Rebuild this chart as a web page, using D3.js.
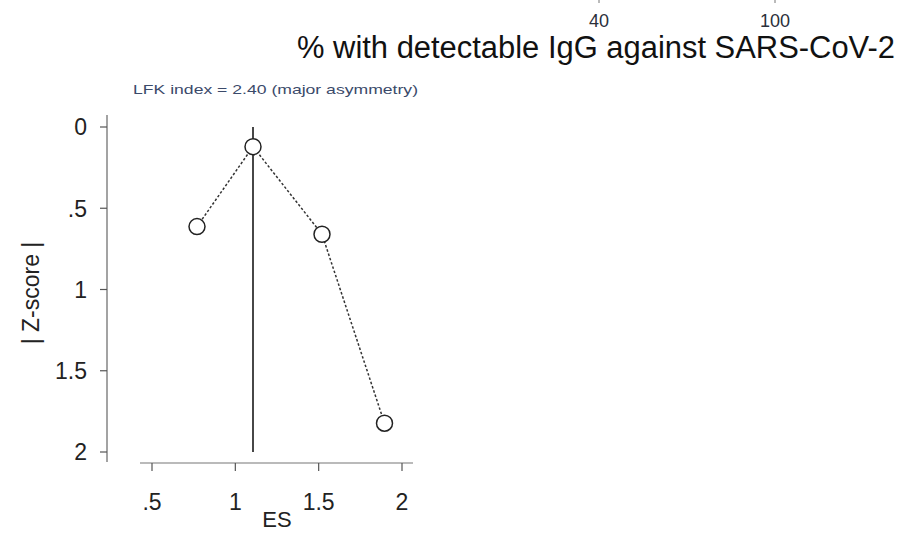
<!DOCTYPE html>
<html>
<head>
<meta charset="utf-8">
<script src="https://cdn.jsdelivr.net/npm/d3@7"></script>
<style>
  body { margin: 0; background: #fff; }
  svg { font-family: "Liberation Sans", Arial, sans-serif; }
</style>
</head>
<body>
<div id="chart"></div>
<script>
// study effect sizes and their |Z| scores
const esValues = [0.77, 1.106, 1.52, 1.895];
const zValues = [0.613, 0.121, 0.66, 1.823];
const refEs = 1.106;
const xTicks = [0.5, 1, 1.5, 2];
const xTickLabels = [".5", "1", "1.5", "2"];
const yTicks = [0, 0.5, 1, 1.5, 2];
const yTickLabels = ["0", ".5", "1", "1.5", "2"];
const topLabels = ["40", "100"];
const titleText = "% with detectable IgG against SARS-CoV-2";
const lfkText = "LFK index = 2.40 (major asymmetry)";

const width = 903, height = 534;

const svg = d3.select("#chart")
    .append("svg")
    .attr("width", width)
    .attr("height", height);

// scales
const x = d3.scaleLinear().domain([0.5, 2]).range([152, 402]);
const y = d3.scaleLinear().domain([0, 2]).range([127, 452]);

// leftover bits of the panel above (cut off)
const topX = [599, 775];
svg.selectAll(".toptick")
    .data(topX)
    .enter().append("line")
    .attr("x1", d => d).attr("x2", d => d)
    .attr("y1", 0).attr("y2", 3)
    .attr("stroke", "#777");
svg.selectAll(".toplabel")
    .data(topLabels)
    .enter().append("text")
    .attr("x", (d, i) => topX[i])
    .attr("y", 27)
    .attr("text-anchor", "middle")
    .attr("font-size", 18)
    .attr("fill", "#2b2f3a")
    .text(d => d);

svg.append("text")
    .attr("x", 297)
    .attr("y", 58)
    .attr("font-size", 31)
    .attr("fill", "#111")
    .attr("textLength", 598)
    .attr("lengthAdjust", "spacingAndGlyphs")
    .text(titleText);

svg.append("text")
    .attr("x", 133)
    .attr("y", 94)
    .attr("font-size", 13.5)
    .attr("fill", "#3b4a6a")
    .attr("textLength", 285)
    .attr("lengthAdjust", "spacingAndGlyphs")
    .text(lfkText);

// y axis
const yAxis = svg.append("g")
    .attr("transform", "translate(107,0)");
yAxis.append("line")
    .attr("x1", 0).attr("x2", 0)
    .attr("y1", 115).attr("y2", 462)
    .attr("stroke", "#666").attr("stroke-width", 1.2);
yAxis.selectAll(".tick")
    .data(yTicks)
    .enter().append("line")
    .attr("x1", -7).attr("x2", 0)
    .attr("y1", d => y(d)).attr("y2", d => y(d))
    .attr("stroke", "#555").attr("stroke-width", 1.2);
yAxis.selectAll(".ylab")
    .data(yTicks)
    .enter().append("text")
    .attr("x", -20)
    .attr("y", d => y(d))
    .attr("dy", "0.36em")
    .attr("text-anchor", "end")
    .attr("font-size", 23)
    .attr("fill", "#222")
    .text((d, i) => yTickLabels[i]);

svg.append("text")
    .attr("transform", "translate(39,293)rotate(-90)")
    .attr("text-anchor", "middle")
    .attr("font-size", 23)
    .attr("fill", "#222")
    .text("| Z-score |");

// x axis
const xAxis = svg.append("g")
    .attr("transform", "translate(0,463)");
xAxis.append("line")
    .attr("x1", 140).attr("x2", 413)
    .attr("y1", 0).attr("y2", 0)
    .attr("stroke", "#777").attr("stroke-width", 1.2);
xAxis.selectAll(".tick")
    .data(xTicks)
    .enter().append("line")
    .attr("x1", d => x(d)).attr("x2", d => x(d))
    .attr("y1", 0).attr("y2", 8)
    .attr("stroke", "#555").attr("stroke-width", 1.2);
xAxis.selectAll(".xlab")
    .data(xTicks)
    .enter().append("text")
    .attr("x", d => x(d))
    .attr("y", 47)
    .attr("text-anchor", "middle")
    .attr("font-size", 23)
    .attr("fill", "#222")
    .text((d, i) => xTickLabels[i]);

svg.append("text")
    .attr("x", 277)
    .attr("y", 527)
    .attr("text-anchor", "middle")
    .attr("font-size", 22)
    .attr("fill", "#222")
    .text("ES");

// reference line at the most precise study
svg.append("line")
    .attr("x1", x(refEs)).attr("x2", x(refEs))
    .attr("y1", y(0)).attr("y2", y(2))
    .attr("stroke", "#333").attr("stroke-width", 1.8);

// dotted line joining the points
const pts = esValues.map((d, i) => [d, zValues[i]]);
svg.append("path")
    .datum(pts)
    .attr("fill", "none")
    .attr("stroke", "#333")
    .attr("stroke-width", 1.5)
    .attr("stroke-dasharray", "2.5,2")
    .attr("d", d3.line().x(d => x(d[0])).y(d => y(d[1])));

svg.selectAll(".pt")
    .data(pts)
    .enter().append("circle")
    .attr("cx", d => x(d[0]))
    .attr("cy", d => y(d[1]))
    .attr("r", 8)
    .attr("fill", "#fff")
    .attr("stroke", "#222")
    .attr("stroke-width", 1.5);
</script>
</body>
</html>
